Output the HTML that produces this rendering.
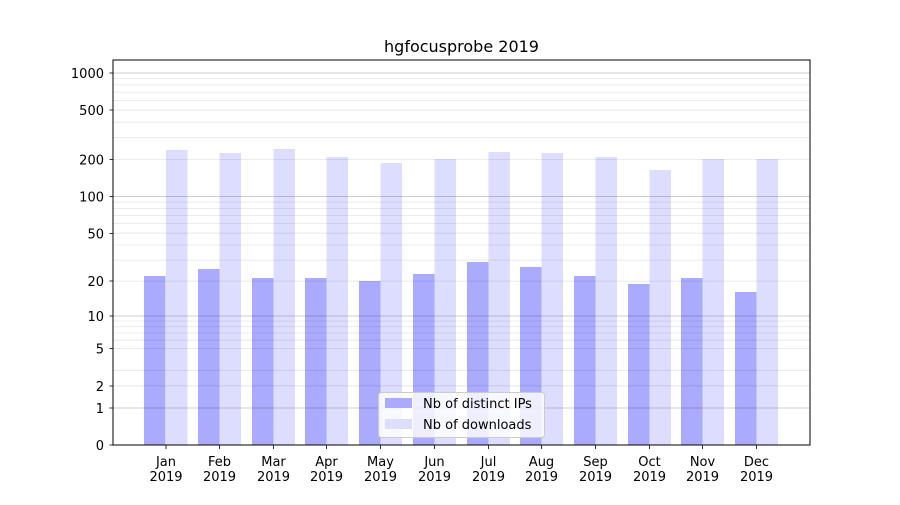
<!DOCTYPE html>
<html><head><meta charset="utf-8"><style>
html,body{margin:0;padding:0;background:#fff;}
text{font-family:"DejaVu Sans","Liberation Sans",sans-serif;fill:#000;}
</style></head><body>
<svg width="900" height="500" viewBox="0 0 900 500" xmlns="http://www.w3.org/2000/svg">
<rect width="900" height="500" fill="#fff"/>
<g fill="#aaaaff">
<rect x="144" y="276" width="21.5" height="169"/>
<rect x="198" y="269" width="21.5" height="176"/>
<rect x="252" y="278" width="21.5" height="167"/>
<rect x="305" y="278" width="21.5" height="167"/>
<rect x="359" y="281" width="21.5" height="164"/>
<rect x="413" y="274" width="21.5" height="171"/>
<rect x="467" y="262" width="21.5" height="183"/>
<rect x="520" y="267" width="21.5" height="178"/>
<rect x="574" y="276" width="21.5" height="169"/>
<rect x="628" y="284" width="21.5" height="161"/>
<rect x="681" y="278" width="21.5" height="167"/>
<rect x="735" y="292" width="21.5" height="153"/>
</g>
<g fill="#ddddff">
<rect x="166" y="150" width="21.5" height="295"/>
<rect x="219.5" y="153" width="21.5" height="292"/>
<rect x="273.5" y="149" width="21.5" height="296"/>
<rect x="326.5" y="157" width="21.5" height="288"/>
<rect x="380.5" y="163" width="21.5" height="282"/>
<rect x="434.5" y="159" width="21.5" height="286"/>
<rect x="488.5" y="152" width="21.5" height="293"/>
<rect x="541.5" y="153" width="21.5" height="292"/>
<rect x="595.5" y="157" width="21.5" height="288"/>
<rect x="649.5" y="170" width="21.5" height="275"/>
<rect x="702.5" y="159" width="21.5" height="286"/>
<rect x="756.5" y="159" width="21.5" height="286"/>
</g>
<g stroke="#000" stroke-opacity="0.1" stroke-width="0.8">
<line x1="113" x2="810" y1="385.8" y2="385.8"/><line x1="113" x2="810" y1="370.3" y2="370.3"/><line x1="113" x2="810" y1="348.5" y2="348.5"/><line x1="113" x2="810" y1="340.2" y2="340.2"/><line x1="113" x2="810" y1="333" y2="333"/><line x1="113" x2="810" y1="326.7" y2="326.7"/><line x1="113" x2="810" y1="321" y2="321"/>
<line x1="113" x2="810" y1="281.1" y2="281.1"/><line x1="113" x2="810" y1="260.1" y2="260.1"/><line x1="113" x2="810" y1="245" y2="245"/><line x1="113" x2="810" y1="233.2" y2="233.2"/><line x1="113" x2="810" y1="223.6" y2="223.6"/><line x1="113" x2="810" y1="215.5" y2="215.5"/><line x1="113" x2="810" y1="208.4" y2="208.4"/><line x1="113" x2="810" y1="202.1" y2="202.1"/>
<line x1="113" x2="810" y1="159.4" y2="159.4"/><line x1="113" x2="810" y1="137.7" y2="137.7"/><line x1="113" x2="810" y1="122.2" y2="122.2"/><line x1="113" x2="810" y1="110.2" y2="110.2"/><line x1="113" x2="810" y1="100.4" y2="100.4"/><line x1="113" x2="810" y1="92.1" y2="92.1"/><line x1="113" x2="810" y1="84.9" y2="84.9"/><line x1="113" x2="810" y1="78.6" y2="78.6"/>
</g>
<g stroke="#000" stroke-opacity="0.25" stroke-width="0.8">
<line x1="113" x2="810" y1="408" y2="408"/><line x1="113" x2="810" y1="316" y2="316"/><line x1="113" x2="810" y1="196.5" y2="196.5"/><line x1="113" x2="810" y1="73" y2="73"/>
</g>
<rect x="113" y="60" width="697" height="385" fill="none" stroke="#000" stroke-width="1"/>
<g stroke="#000" stroke-width="0.8">
<line x1="109.5" x2="113" y1="445" y2="445"/><line x1="109.5" x2="113" y1="408" y2="408"/><line x1="109.5" x2="113" y1="386" y2="386"/><line x1="109.5" x2="113" y1="348.5" y2="348.5"/><line x1="109.5" x2="113" y1="316" y2="316"/><line x1="109.5" x2="113" y1="281" y2="281"/><line x1="109.5" x2="113" y1="233.5" y2="233.5"/><line x1="109.5" x2="113" y1="196.5" y2="196.5"/><line x1="109.5" x2="113" y1="159.5" y2="159.5"/><line x1="109.5" x2="113" y1="110" y2="110"/><line x1="109.5" x2="113" y1="73" y2="73"/>
<line x1="166" x2="166" y1="445" y2="449"/><line x1="219.5" x2="219.5" y1="445" y2="449"/><line x1="273.5" x2="273.5" y1="445" y2="449"/><line x1="326.5" x2="326.5" y1="445" y2="449"/><line x1="380.5" x2="380.5" y1="445" y2="449"/><line x1="434.5" x2="434.5" y1="445" y2="449"/><line x1="488.5" x2="488.5" y1="445" y2="449"/><line x1="541.5" x2="541.5" y1="445" y2="449"/><line x1="595.5" x2="595.5" y1="445" y2="449"/><line x1="649.5" x2="649.5" y1="445" y2="449"/><line x1="702.5" x2="702.5" y1="445" y2="449"/><line x1="756.5" x2="756.5" y1="445" y2="449"/>
</g>
<g font-size="13" text-anchor="end">
<text x="104" y="450">0</text><text x="104" y="413">1</text><text x="104" y="391">2</text><text x="104" y="353.5">5</text><text x="104" y="321">10</text><text x="104" y="286">20</text><text x="104" y="238.5">50</text><text x="104" y="201.5">100</text><text x="104" y="164.5">200</text><text x="104" y="115">500</text><text x="104" y="78">1000</text>
</g>
<g font-size="13" text-anchor="middle">
<text x="166" y="466">Jan</text><text x="166" y="481">2019</text>
<text x="219.5" y="466">Feb</text><text x="219.5" y="481">2019</text>
<text x="273.5" y="466">Mar</text><text x="273.5" y="481">2019</text>
<text x="326.5" y="466">Apr</text><text x="326.5" y="481">2019</text>
<text x="380.5" y="466">May</text><text x="380.5" y="481">2019</text>
<text x="434.5" y="466">Jun</text><text x="434.5" y="481">2019</text>
<text x="488.5" y="466">Jul</text><text x="488.5" y="481">2019</text>
<text x="541.5" y="466">Aug</text><text x="541.5" y="481">2019</text>
<text x="595.5" y="466">Sep</text><text x="595.5" y="481">2019</text>
<text x="649.5" y="466">Oct</text><text x="649.5" y="481">2019</text>
<text x="702.5" y="466">Nov</text><text x="702.5" y="481">2019</text>
<text x="756.5" y="466">Dec</text><text x="756.5" y="481">2019</text>
</g>
<text x="461.5" y="52" font-size="16" text-anchor="middle">hgfocusprobe 2019</text>
<rect x="378.5" y="392.5" width="166" height="45" rx="3" fill="#fff" fill-opacity="0.8" stroke="#ccc"/>
<rect x="385" y="398" width="27" height="10" fill="#aaaaff"/>
<rect x="385" y="419" width="27" height="10" fill="#ddddff"/>
<text x="423" y="408" font-size="13">Nb of distinct IPs</text>
<text x="423" y="429" font-size="13">Nb of downloads</text>
</svg>
</body></html>
